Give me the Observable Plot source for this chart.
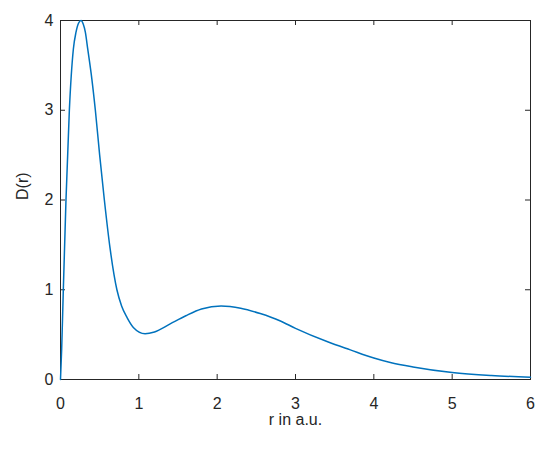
<!DOCTYPE html>
<html>
<head>
<meta charset="utf-8">
<script src="https://cdn.jsdelivr.net/npm/d3@7"></script>
<script src="https://cdn.jsdelivr.net/npm/@observablehq/plot@0.6"></script>
<style>
  html, body { margin: 0; padding: 0; background: #fff; }
  svg { font-family: "Liberation Sans", Arial, sans-serif; }
</style>
</head>
<body>
<div id="chart"></div>
<script>
const rValues = [0, 0.015, 0.036, 0.07, 0.113, 0.164, 0.198, 0.23, 0.262, 0.29, 0.317, 0.348, 0.40, 0.445, 0.50, 0.56, 0.633, 0.72, 0.78, 0.85, 0.93, 1.08, 1.2, 1.4, 1.6, 1.8, 2.05, 2.3, 2.55, 2.8, 3.0, 3.41, 3.7, 4.0, 4.21, 4.5, 5.0, 5.5, 6.0];
const dValues = [0, 0.34, 1.0, 2.0, 3.0, 3.68, 3.87, 3.97, 4.0, 3.96, 3.87, 3.68, 3.35, 3.0, 2.5, 2.0, 1.46, 1.0, 0.82, 0.69, 0.58, 0.51, 0.53, 0.62, 0.71, 0.785, 0.82, 0.795, 0.735, 0.655, 0.57, 0.42, 0.33, 0.24, 0.19, 0.14, 0.078, 0.045, 0.026];
const xTicks = [0, 1, 2, 3, 4, 5, 6];
const yTicks = [0, 1, 2, 3, 4];
const xLabel = "r in a.u.";
const yLabel = "D(r)";

const data = rValues.map((r, i) => ({r, d: dValues[i]}));
const axisColor = "#262626";
const fmt = d3.format("d");

const chart = Plot.plot({
  width: 550,
  height: 450,
  marginLeft: 60,
  marginRight: 20,
  marginTop: 20,
  marginBottom: 71,
  style: {fontSize: "16px", fontFamily: "'Liberation Sans', Arial, sans-serif", color: axisColor, background: "white"},
  x: {domain: [0, 6], ticks: xTicks, label: null},
  y: {domain: [0, 4], ticks: yTicks, label: null},
  marks: [
    Plot.frame({stroke: axisColor, strokeWidth: 1}),
    // inward ticks on all four sides
    Plot.ruleX(xTicks, {x: d => d, insetTop: 359 - 5, stroke: axisColor}),
    Plot.ruleX(xTicks, {x: d => d, insetBottom: 359 - 5, stroke: axisColor}),
    Plot.ruleY(yTicks, {y: d => d, insetRight: 470 - 5, stroke: axisColor}),
    Plot.ruleY(yTicks, {y: d => d, insetLeft: 470 - 5, stroke: axisColor}),
    Plot.axisX(xTicks, {anchor: "bottom", tickSize: 0, tickPadding: 18, tickFormat: fmt, label: null, fill: axisColor, fontSize: 16}),
    Plot.axisY(yTicks, {anchor: "left", tickSize: 0, tickPadding: 7, tickFormat: fmt, label: null, fill: axisColor, fontSize: 16}),
    Plot.line(data, {x: "r", y: "d", stroke: "#0072BD", strokeWidth: 1.5, curve: "monotone-x"}),
    Plot.text([xLabel], {frameAnchor: "bottom", lineAnchor: "middle", dy: 40, text: d => d, fontSize: 16, fill: axisColor}),
    Plot.text([yLabel], {frameAnchor: "left", lineAnchor: "middle", dx: -38, rotate: -90, text: d => d, fontSize: 16, fill: axisColor})
  ]
});
document.getElementById("chart").appendChild(chart);
</script>
</body>
</html>
